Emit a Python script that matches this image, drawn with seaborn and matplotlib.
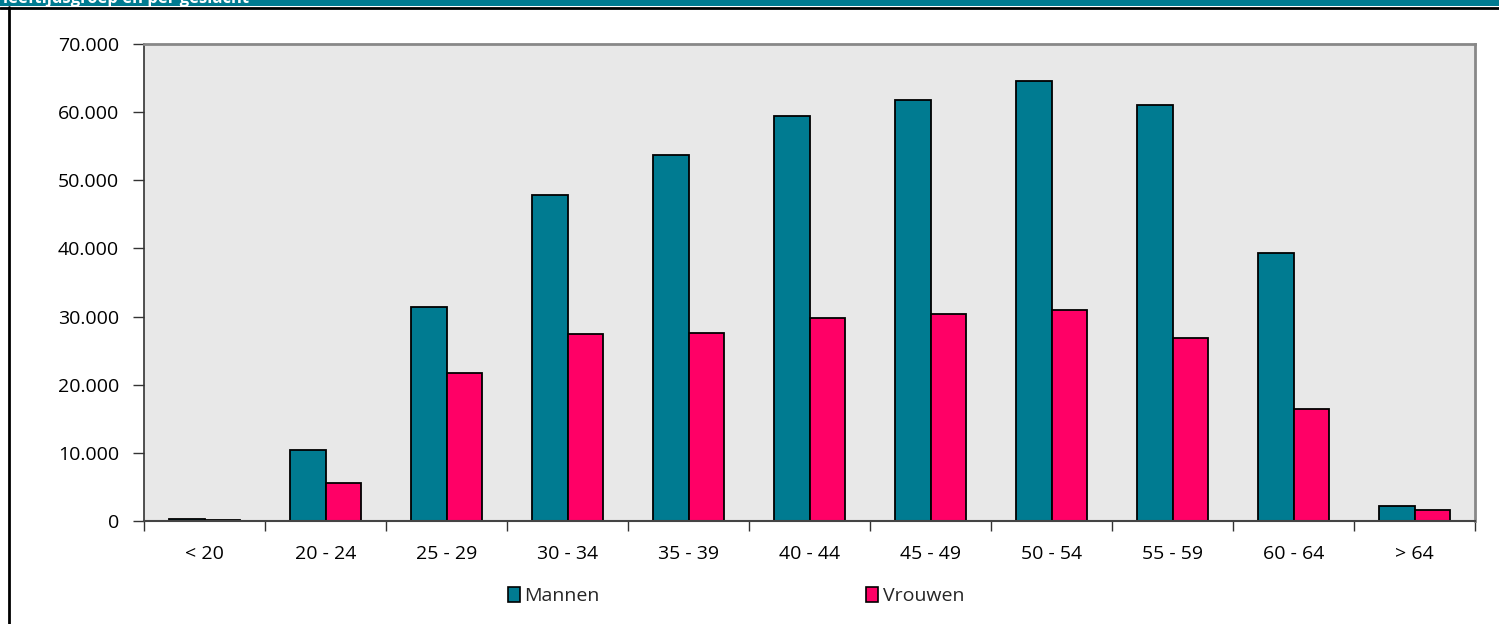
import matplotlib
matplotlib.use("Agg")
import matplotlib.pyplot as plt
import matplotlib.ticker as mticker
from matplotlib.patches import Rectangle
from matplotlib.lines import Line2D
import seaborn as sns
import pandas as pd
import numpy as np

categories = ["< 20", "20 - 24", "25 - 29", "30 - 34", "35 - 39", "40 - 44",
              "45 - 49", "50 - 54", "55 - 59", "60 - 64", "> 64"]
mannen = [300, 10400, 31400, 47800, 53700, 59500, 61800, 64600, 61000, 39300, 2200]
vrouwen = [100, 5600, 21700, 27400, 27600, 29800, 30400, 31000, 26900, 16400, 1600]
series_names = ["Mannen", "Vrouwen"]
colors = ["#007B91", "#FF0066"]
header_text = "leeftijdsgroep en per geslacht"

df = pd.DataFrame({
    "cat": categories * 2,
    "val": mannen + vrouwen,
    "sex": [series_names[0]] * len(categories) + [series_names[1]] * len(categories),
})

sns.set_theme(style="white")
plt.rcParams["font.family"] = ["Open Sans", "DejaVu Sans"]

fig = plt.figure(figsize=(14.99, 6.24), dpi=100)
ax = fig.add_axes([144/1499, 103/624, (1475-144)/1499, (521-44)/624])
ax.set_facecolor("#E8E8E8")

sns.barplot(data=df, x="cat", y="val", hue="sex", palette=colors, ax=ax,
            width=0.58, edgecolor="black", linewidth=1.3, saturation=1,
            order=categories, hue_order=series_names, legend=False)

ax.set_ylim(0, 70000)
ax.set_xlim(-0.5, len(categories) - 0.5)
ax.yaxis.set_major_locator(mticker.MultipleLocator(10000))
ax.yaxis.set_major_formatter(mticker.FuncFormatter(lambda v, p: f"{int(v):,}".replace(",", ".")))
ax.set_xlabel("")
ax.set_ylabel("")

ax.set_xticks(np.arange(len(categories)))
ax.set_xticklabels(categories)
ax.set_xticks(np.arange(len(categories) + 1) - 0.5, minor=True)
ax.tick_params(axis="x", which="major", length=0, pad=17, labelsize=14, labelcolor="black")
ax.tick_params(axis="x", which="minor", length=7, width=1, color="#333333", direction="out")
ax.tick_params(axis="y", which="major", length=8, width=1, color="#333333", direction="out",
               pad=10, labelsize=14, labelcolor="black")
ax.tick_params(bottom=True, left=True, which="both")

for side in ["top", "right"]:
    ax.spines[side].set_color("#888888")
    ax.spines[side].set_linewidth(2)
ax.spines["left"].set_color("#333333")
ax.spines["left"].set_linewidth(1.2)
ax.spines["bottom"].set_color("#444444")
ax.spines["bottom"].set_linewidth(1.5)

# Header bar
fig.patches.append(Rectangle((0, 1 - 6/624), 1, 6/624, transform=fig.transFigure,
                             facecolor="#007B91", edgecolor="none", zorder=0))
fig.lines.append(Line2D([0, 1], [1 - 7.5/624, 1 - 7.5/624], transform=fig.transFigure,
                        color="black", linewidth=2))
fig.lines.append(Line2D([8.5/1499, 8.5/1499], [0, 1 - 7/624], transform=fig.transFigure,
                        color="black", linewidth=2))
fig.text(3/1499, 1 - 3/624, header_text, color="white", fontweight="bold",
         fontsize=12, va="baseline", ha="left")

handles = [Rectangle((0, 0), 1, 1, facecolor=c, edgecolor="black", linewidth=1.2) for c in colors]
fig.legend(handles, series_names, loc="center", bbox_to_anchor=(0.491, 28/624), ncol=2,
           frameon=False, fontsize=14, handlelength=0.6, handleheight=0.8,
           handletextpad=0.25, columnspacing=13.7)

fig.savefig("out.png", dpi=100)
